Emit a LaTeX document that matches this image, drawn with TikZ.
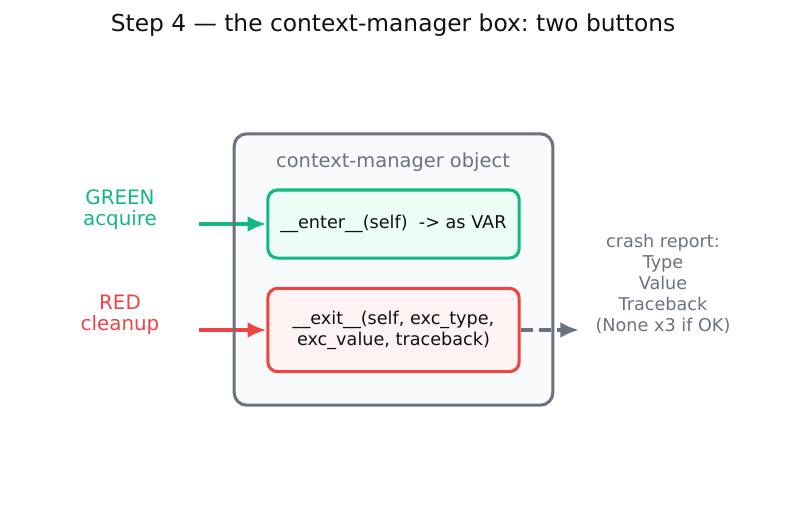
\documentclass[tikz,border=0pt]{standalone}
\usepackage{fontspec}
\setmainfont{DejaVu Sans}
\usepackage{xcolor}
\usetikzlibrary{arrows.meta,positioning}
\definecolor{cmgreen}{HTML}{10B981}
\definecolor{cmgreenfill}{HTML}{ECFDF5}
\definecolor{cmred}{HTML}{EF4444}
\definecolor{cmredfill}{HTML}{FEF2F2}
\definecolor{cmgray}{HTML}{6B7280}
\definecolor{cmlight}{HTML}{F8FAFC}
\definecolor{cmink}{HTML}{111111}
\tikzset{
  objbox/.style={rectangle,rounded corners=9pt,fill=cmlight,minimum width=229pt,minimum height=195pt},
  objedge/.style={rounded corners=9pt,draw=cmgray,line width=2.2pt},
  enterbtn/.style={rectangle,rounded corners=7pt,draw=cmgreen,fill=cmgreenfill,line width=2.2pt,align=center,minimum width=181pt,minimum height=49pt,font=\fontsize{12.7}{15.1}\selectfont,text=cmink},
  exitbtn/.style={rectangle,rounded corners=7pt,draw=cmred,fill=cmredfill,line width=2.2pt,align=center,minimum width=181pt,minimum height=60pt,font=\fontsize{12.7}{15.1}\selectfont,text=cmink},
  sidelabel/.style={align=center,font=\fontsize{14.3}{15.1}\selectfont},
  edge/.style={-{Latex[length=13.5pt,width=11.5pt]},line width=2.4pt},
  dashededge/.style={-{Latex[length=13.5pt,width=11.5pt]},line width=2.4pt,dash pattern=on 9pt off 4pt,draw=cmgray}
}
\begin{document}
\frenchspacing
\begin{tikzpicture}[x=0.72pt,y=-0.72pt]
\useasboundingbox[fill=white] (0,0) rectangle (787,510);
\node[font=\fontsize{16.8}{20}\selectfont,text=cmink] (title) at (393,25) {Step 4 --- the context-manager box: two buttons};
\node[objbox] (cm) at (393.5,269.5) {};
\node[text=cmgray,font=\fontsize{14}{16}\selectfont] (cmname) at (393,162) {context-manager object};
\node[enterbtn] (enter) at (393.5,224) {\_\_enter\_\_(self)\ \ -> as VAR};
\node[exitbtn] (exit) at (393.5,330) {\_\_exit\_\_(self, exc\_type,\\exc\_value, traceback)};
\node[sidelabel,text=cmgreen] (green) at (120,210) {GREEN\\acquire};
\node[sidelabel,text=cmred] (red) at (120,315) {RED\\cleanup};
\node[sidelabel,text=cmgray,font=\fontsize{12.7}{15.1}\selectfont] (crash) at (663,284) {crash report:\\Type\\Value\\Traceback\\(None x3 if OK)};
\coordinate (gin) at (199,224);
\coordinate (rin) at (199,330);
\coordinate (rout) at (579,330);
\draw[edge,draw=cmgreen,fill=cmgreen] (gin) -- (enter.west);
\draw[edge,draw=cmred,fill=cmred] (rin) -- (exit.west);
\draw[dashededge,fill=cmgray] (exit.east) -- (rout);
% box outline goes over the arrows
\draw[objedge] (cm.south west) rectangle (cm.north east);
\end{tikzpicture}
\end{document}
